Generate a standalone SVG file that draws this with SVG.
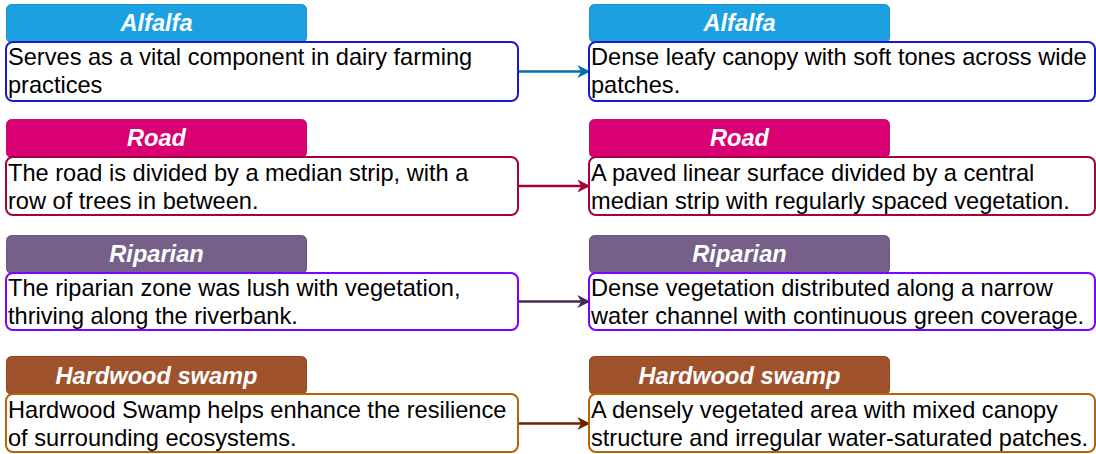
<svg xmlns="http://www.w3.org/2000/svg" width="1096" height="454" viewBox="0 0 1096 454">
<style>
.hd{font-family:"Liberation Sans",Arial,sans-serif;font-size:23.6px;font-weight:bold;font-style:italic;fill:#fff;text-anchor:middle}
.bt{font-family:"Liberation Sans",Arial,sans-serif;font-size:23.6px;fill:#000}
.body{fill:#fff;stroke-width:2}
.arr{stroke-width:2.5;fill:none}
</style>
<defs>
<marker id="m1" viewBox="0 0 10 10" refX="9" refY="5" markerWidth="14" markerHeight="13" orient="auto" markerUnits="userSpaceOnUse"><path d="M0,0 L10,5 L0,10 L3,5 Z" fill="#006eaf"/></marker>
<marker id="m2" viewBox="0 0 10 10" refX="9" refY="5" markerWidth="14" markerHeight="13" orient="auto" markerUnits="userSpaceOnUse"><path d="M0,0 L10,5 L0,10 L3,5 Z" fill="#a50040"/></marker>
<marker id="m3" viewBox="0 0 10 10" refX="9" refY="5" markerWidth="14" markerHeight="13" orient="auto" markerUnits="userSpaceOnUse"><path d="M0,0 L10,5 L0,10 L3,5 Z" fill="#432d57"/></marker>
<marker id="m4" viewBox="0 0 10 10" refX="9" refY="5" markerWidth="14" markerHeight="13" orient="auto" markerUnits="userSpaceOnUse"><path d="M0,0 L10,5 L0,10 L3,5 Z" fill="#6d1f00"/></marker>
</defs>
<g id="connectors">
<line class="arr" x1="518" y1="71.5" x2="589" y2="71.5" stroke="#006eaf" marker-end="url(#m1)"/>
<line class="arr" x1="518" y1="186" x2="589" y2="186" stroke="#a50040" marker-end="url(#m2)"/>
<line class="arr" x1="518" y1="301.5" x2="589" y2="301.5" stroke="#432d57" marker-end="url(#m3)"/>
<line class="arr" x1="518" y1="423.5" x2="589" y2="423.5" stroke="#6d1f00" marker-end="url(#m4)"/>
</g>
<g id="alfalfa-left">
<rect x="6.5" y="4.5" width="300" height="38" rx="5" fill="#1ba1e2" stroke="#1b8ed0"/>
<text class="hd" x="156.5" y="31">Alfalfa</text>
<rect class="body" x="6" y="42" width="512" height="59" rx="7" stroke="#1a1acc"/>
<text class="bt" x="8" y="65">Serves as a vital component in dairy farming</text>
<text class="bt" x="8" y="93">practices</text>
</g>
<g id="alfalfa-right">
<rect x="589.5" y="4.5" width="300" height="38" rx="5" fill="#1ba1e2" stroke="#1b8ed0"/>
<text class="hd" x="739.5" y="31">Alfalfa</text>
<rect class="body" x="589" y="42" width="506" height="59" rx="7" stroke="#1a1acc"/>
<text class="bt" x="591" y="65">Dense leafy canopy with soft tones across wide</text>
<text class="bt" x="591" y="93">patches.</text>
</g>
<g id="road-left">
<rect x="6.5" y="119.5" width="300" height="38" rx="5" fill="#d80073" stroke="#c0106a"/>
<text class="hd" x="156.5" y="146">Road</text>
<rect class="body" x="6" y="157" width="512" height="58" rx="7" stroke="#a50040"/>
<text class="bt" x="8" y="181">The road is divided by a median strip, with a</text>
<text class="bt" x="8" y="208.5">row of trees in between.</text>
</g>
<g id="road-right">
<rect x="589.5" y="119.5" width="300" height="38" rx="5" fill="#d80073" stroke="#c0106a"/>
<text class="hd" x="739.5" y="146">Road</text>
<rect class="body" x="589" y="157" width="506" height="58" rx="7" stroke="#a50040"/>
<text class="bt" x="591" y="181">A paved linear surface divided by a central</text>
<text class="bt" x="591" y="208.5">median strip with regularly spaced vegetation.</text>
</g>
<g id="riparian-left">
<rect x="6.5" y="235.5" width="300" height="38" rx="5" fill="#76608a" stroke="#6a5580"/>
<text class="hd" x="156.5" y="261.5">Riparian</text>
<rect class="body" x="6" y="273" width="512" height="57" rx="7" stroke="#7f00ff"/>
<text class="bt" x="8" y="296">The riparian zone was lush with vegetation,</text>
<text class="bt" x="8" y="324">thriving along the riverbank.</text>
</g>
<g id="riparian-right">
<rect x="589.5" y="235.5" width="300" height="38" rx="5" fill="#76608a" stroke="#6a5580"/>
<text class="hd" x="739.5" y="261.5">Riparian</text>
<rect class="body" x="589" y="273" width="506" height="57" rx="7" stroke="#7f00ff"/>
<text class="bt" x="591" y="296">Dense vegetation distributed along a narrow</text>
<text class="bt" x="591" y="324">water channel with continuous green coverage.</text>
</g>
<g id="hardwood-left">
<rect x="6.5" y="356.5" width="300" height="38" rx="5" fill="#a0522d" stroke="#8a4520"/>
<text class="hd" x="156.5" y="383.5">Hardwood swamp</text>
<rect class="body" x="6" y="394" width="512" height="58" rx="7" stroke="#b46504"/>
<text class="bt" x="8" y="418">Hardwood Swamp helps enhance the resilience</text>
<text class="bt" x="8" y="445.5">of surrounding ecosystems.</text>
</g>
<g id="hardwood-right">
<rect x="589.5" y="356.5" width="300" height="38" rx="5" fill="#a0522d" stroke="#8a4520"/>
<text class="hd" x="739.5" y="383.5">Hardwood swamp</text>
<rect class="body" x="589" y="394" width="506" height="58" rx="7" stroke="#b46504"/>
<text class="bt" x="591" y="418">A densely vegetated area with mixed canopy</text>
<text class="bt" x="591" y="445.5">structure and irregular water-saturated patches.</text>
</g>
</svg>
